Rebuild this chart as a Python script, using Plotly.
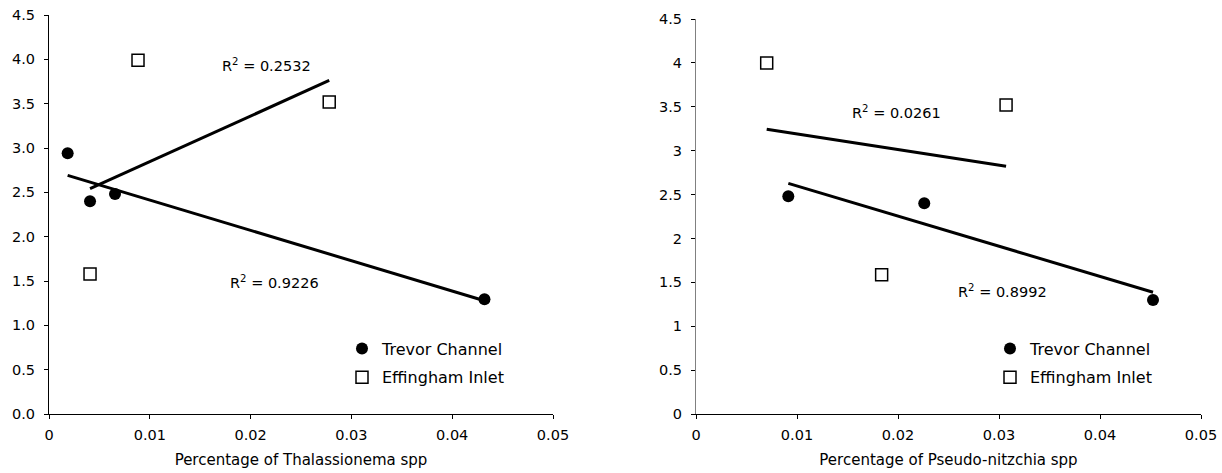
import numpy as np
import plotly.graph_objects as go

# ---- data ----
thal_trevor_x = [0.00185, 0.00407, 0.00655, 0.0432]
thal_trevor_y = [2.94, 2.40, 2.48, 1.295]
thal_eff_x = [0.00883, 0.0278, 0.00407]
thal_eff_y = [3.99, 3.52, 1.58]

pn_trevor_x = [0.00914, 0.0226, 0.04525]
pn_trevor_y = [2.48, 2.40, 1.30]
pn_eff_x = [0.0070, 0.0307, 0.01838]
pn_eff_y = [4.00, 3.52, 1.586]

r2_labels = ["R<sup>2</sup> = 0.2532", "R<sup>2</sup> = 0.9226",
             "R<sup>2</sup> = 0.0261", "R<sup>2</sup> = 0.8992"]
x_titles = ["Percentage of Thalassionema spp", "Percentage of Pseudo-nitzchia spp"]
series_names = ["Trevor Channel", "Effingham Inlet"]

FONT = "DejaVu Sans"
W, H = 1222, 473


def trend(xs, ys):
    xs = np.asarray(xs)
    ys = np.asarray(ys)
    m, b = np.polyfit(xs, ys, 1)
    xx = np.array([xs.min(), xs.max()])
    return xx, m * xx + b


fig = go.Figure()

panels = [
    (thal_trevor_x, thal_trevor_y, thal_eff_x, thal_eff_y, "x", "y", "legend"),
    (pn_trevor_x, pn_trevor_y, pn_eff_x, pn_eff_y, "x2", "y2", "legend2"),
]

for tx, ty, ex, ey, xa, ya, lg in panels:
    for xs, ys in ((tx, ty), (ex, ey)):
        lx, ly = trend(xs, ys)
        fig.add_trace(go.Scatter(x=lx, y=ly, mode="lines", xaxis=xa, yaxis=ya,
                                 line=dict(color="black", width=3), showlegend=False,
                                 hoverinfo="skip"))
    fig.add_trace(go.Scatter(x=tx, y=ty, mode="markers", name=series_names[0], xaxis=xa, yaxis=ya,
                             marker=dict(symbol="circle", size=12, color="black"),
                             legend=lg, legendgroup=lg + "a"))
    fig.add_trace(go.Scatter(x=ex, y=ey, mode="markers", name=series_names[1], xaxis=xa, yaxis=ya,
                             marker=dict(symbol="square-open", size=12, color="black",
                                         line=dict(width=1.5, color="black")),
                             legend=lg, legendgroup=lg + "b"))

axis_common = dict(showgrid=False, zeroline=False, showline=True, linecolor="black", linewidth=1,
                   ticks="outside", ticklen=4, tickcolor="black", automargin=False,
                   tickfont=dict(family=FONT, size=14.5, color="black"))

def px_x(p):
    return p / W

def px_y(p):
    return 1 - p / H

TITLE_FONT = dict(family=FONT, size=15, color="black")
LEG_FONT = dict(family=FONT, size=16, color="black")

fig.update_layout(
    width=W, height=H,
    margin=dict(l=0, r=0, t=0, b=0, autoexpand=False),
    paper_bgcolor="white", plot_bgcolor="white",
    font=dict(family=FONT, size=14, color="black"),
    xaxis=dict(domain=[px_x(49), px_x(553)], range=[0, 0.05], dtick=0.01, anchor="y",
               title=dict(text=x_titles[0], font=TITLE_FONT, standoff=12),
               ticklabelstandoff=4, **axis_common),
    yaxis=dict(domain=[px_y(414), px_y(15)], range=[0, 4.5], dtick=0.5, tickformat=".1f",
               anchor="x", ticklabelstandoff=6, **axis_common),
    xaxis2=dict(domain=[px_x(696), px_x(1201)], range=[0, 0.05], dtick=0.01, anchor="y2",
                title=dict(text=x_titles[1], font=TITLE_FONT, standoff=12),
                ticklabelstandoff=4, **axis_common),
    yaxis2=dict(domain=[px_y(414), px_y(19)], range=[0, 4.5], dtick=0.5,
                anchor="x2", ticklabelstandoff=6, **axis_common),
    legend=dict(x=px_x(342), y=px_y(363), xanchor="left", yanchor="middle",
                bgcolor="rgba(0,0,0,0)", font=LEG_FONT,
                tracegroupgap=5, traceorder="grouped"),
    legend2=dict(x=px_x(990), y=px_y(363), xanchor="left", yanchor="middle",
                 bgcolor="rgba(0,0,0,0)", font=LEG_FONT,
                 tracegroupgap=5, traceorder="grouped"),
    showlegend=True,
)
fig.layout.yaxis2.linecolor = "#808080"

ann = [
    (r2_labels[0], 0.0216, 3.935, "x", "y"),
    (r2_labels[1], 0.0224, 1.49, "x", "y"),
    (r2_labels[2], 0.0199, 3.44, "x2", "y2"),
    (r2_labels[3], 0.0303, 1.40, "x2", "y2"),
]
for text, ax_x, ax_y, xr, yr in ann:
    fig.add_annotation(text=text, x=ax_x, y=ax_y, xref=xr, yref=yr, showarrow=False,
                       font=dict(family=FONT, size=14.5, color="black"))

fig.write_html("out.html")
